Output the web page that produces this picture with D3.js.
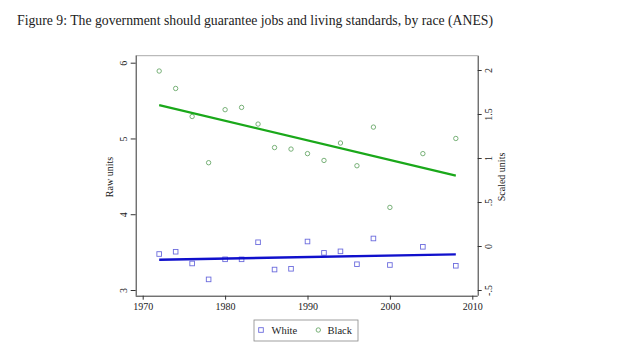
<!DOCTYPE html>
<html><head><meta charset="utf-8">
<script src="https://cdn.jsdelivr.net/npm/d3@7/dist/d3.min.js"></script>
<style>body{margin:0;background:#fff;} svg{display:block;}</style>
</head><body>
<svg id="c" width="623" height="358"></svg>
<script>
const years = [1972,1974,1976,1978,1980,1982,1984,1986,1988,1990,1992,1994,1996,1998,2000,2004,2008];
const blackValues = [5.89,5.66,5.29,4.68,5.38,5.41,5.19,4.88,4.86,4.80,4.71,4.94,4.64,5.15,4.09,4.80,5.00];
const whiteValues = [3.475,3.505,3.35,3.14,3.405,3.405,3.63,3.27,3.28,3.64,3.49,3.51,3.34,3.68,3.33,3.57,3.32];
const fitYears = [1972, 2008];
const blackFit = [5.44, 4.51];
const whiteFit = [3.40, 3.47];
const xTicks = [1970,1980,1990,2000,2010];
const rawTicks = [3,4,5,6];
const scaledTicks = [-0.5,0,0.5,1,1.5,2];
const scaledLabels = ["-.5","0",".5","1","1.5","2"];
const legendLabels = ["White","Black"];
const title = "Figure 9: The government should guarantee jobs and living standards, by race (ANES)";

const svg = d3.select("#c");
const font = "'Liberation Serif','Times New Roman',serif";
const L = 135.7, R = 477.7, T = 55.7, B = 295.7;
const x = d3.scaleLinear().domain([1970,2010]).range([142.7,472.3]);
const yRaw = d3.scaleLinear().domain([3,6]).range([290,62.7]);
const yScaled = d3.scaleLinear().domain([-0.5,2]).range([290,70]);

svg.append("text").attr("x",17).attr("y",24.5).attr("font-family",font).attr("font-size",14.5)
  .attr("textLength",476).attr("lengthAdjust","spacingAndGlyphs").attr("fill","#222").text(title);

// frame
svg.append("line").attr("x1",L).attr("x2",R).attr("y1",T).attr("y2",T).attr("stroke","#aaa").attr("stroke-width",1);

// axes
const gx = svg.append("g").attr("transform",`translate(0,${B})`)
  .call(d3.axisBottom(x).tickValues(xTicks).tickFormat(d3.format("d")).tickSize(4).tickPadding(3));
gx.select(".domain").attr("d",`M${L},0.5H${R}`);
const gl = svg.append("g").attr("transform",`translate(${L},0)`)
  .call(d3.axisLeft(yRaw).tickValues(rawTicks).tickFormat(d3.format("d")).tickSize(5));
gl.select(".domain").attr("d",`M0.5,${T}V${B}`);
gl.selectAll(".tick text").attr("transform","rotate(-90)").attr("x",0).attr("y",-9).attr("dy","0").attr("text-anchor","middle");
const gr = svg.append("g").attr("transform",`translate(${R},0)`)
  .call(d3.axisRight(yScaled).tickValues(scaledTicks).tickFormat((d,i)=>scaledLabels[i]).tickSize(4));
gr.select(".domain").attr("d",`M0.5,${T}V${B}`);
gr.selectAll(".tick text").attr("transform","rotate(-90)").attr("x",0).attr("y",14).attr("dy","0").attr("text-anchor","middle");
[gx,gl,gr].forEach(g=>{
  g.selectAll("text").attr("font-family",font).attr("font-size",10).attr("fill","#222");
  g.selectAll("line,path").attr("stroke","#333");
});

svg.append("text").attr("transform","translate(113,177) rotate(-90)").attr("text-anchor","middle")
  .attr("font-family",font).attr("font-size",10).attr("fill","#222").text("Raw units");
svg.append("text").attr("transform","translate(505,177) rotate(-90)").attr("text-anchor","middle")
  .attr("font-family",font).attr("font-size",10).attr("fill","#222").text("Scaled units");

// points
const greenPt = "#6aa86a", bluePt = "#6b6bdd";
svg.append("g").selectAll("circle").data(years).join("circle")
  .attr("cx",d=>x(d)).attr("cy",(d,i)=>yRaw(blackValues[i])).attr("r",2.2)
  .attr("fill","none").attr("stroke",greenPt).attr("stroke-width",0.9);
svg.append("g").selectAll("rect").data(years).join("rect")
  .attr("x",d=>x(d)-2.3).attr("y",(d,i)=>yRaw(whiteValues[i])-2.3).attr("width",4.6).attr("height",4.6)
  .attr("fill","none").attr("stroke",bluePt).attr("stroke-width",0.9);

// fit lines
const line = vals => d3.line().x((d,i)=>x(fitYears[i])).y(d=>yRaw(d))(vals);
svg.append("path").attr("d",line(blackFit)).attr("stroke","#1aa81a").attr("stroke-width",2.2).attr("fill","none");
svg.append("path").attr("d",line(whiteFit)).attr("stroke","#1010cc").attr("stroke-width",2.4).attr("fill","none");

// legend
const lg = svg.append("g");
lg.append("rect").attr("x",254).attr("y",320).attr("width",104).attr("height",21).attr("fill","#fff").attr("stroke","#888").attr("stroke-width",0.8);
lg.append("rect").attr("x",261-2.3).attr("y",330-2.3).attr("width",4.6).attr("height",4.6).attr("fill","none").attr("stroke",bluePt).attr("stroke-width",0.9);
lg.append("circle").attr("cx",318.3).attr("cy",330).attr("r",2.2).attr("fill","none").attr("stroke",greenPt).attr("stroke-width",0.9);
lg.append("text").attr("x",271.5).attr("y",334).attr("font-family",font).attr("font-size",10.5).attr("fill","#222").text(legendLabels[0]);
lg.append("text").attr("x",327.5).attr("y",334).attr("font-family",font).attr("font-size",10.5).attr("fill","#222").text(legendLabels[1]);
</script>
</body></html>
